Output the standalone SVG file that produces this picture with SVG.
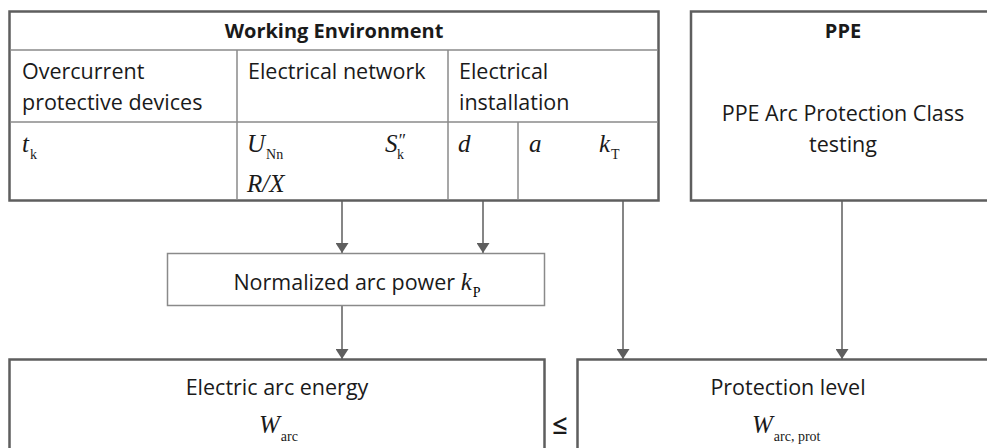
<svg xmlns="http://www.w3.org/2000/svg" width="987" height="448" viewBox="0 0 987 448">
<style>
.box{fill:#fff;stroke:#5e5e5e;stroke-width:2.5}
.inner{fill:none;stroke:#8a8a8a;stroke-width:1.5}
.thin{fill:#fff;stroke:#8a8a8a;stroke-width:1.5}
.t{font-family:"Open Sans","Liberation Sans",sans-serif;font-size:21.5px;fill:#1a1a1a}
.b{font-weight:bold;font-size:20px}
.m{font-family:"Liberation Serif","DejaVu Serif",serif;font-style:italic;font-size:25px;fill:#1a1a1a}
.s{font-family:"Liberation Serif","DejaVu Serif",serif;font-style:normal;font-size:14px}
.p{font-size:18px}
.c{stroke:#5e5e5e;stroke-width:1.5;fill:none}
</style>
<defs>
<marker id="ah" viewBox="0 0 10 13" refX="10" refY="6.5" markerWidth="10" markerHeight="13" markerUnits="userSpaceOnUse" orient="auto">
<path d="M0,0 L10,6.5 L0,13 z" fill="#5e5e5e"/>
</marker>
</defs>
<g id="connectors">
<line class="c" x1="342" y1="201" x2="342" y2="253" marker-end="url(#ah)"/>
<line class="c" x1="483" y1="201" x2="483" y2="253" marker-end="url(#ah)"/>
<line class="c" x1="342" y1="306" x2="342" y2="359" marker-end="url(#ah)"/>
<line class="c" x1="623" y1="201" x2="623" y2="359" marker-end="url(#ah)"/>
<line class="c" x1="842" y1="201" x2="842" y2="359" marker-end="url(#ah)"/>
</g>
<g id="working-environment">
<rect class="box" x="9.5" y="11.5" width="649" height="189"/>
<line class="inner" x1="10" y1="50" x2="658" y2="50"/>
<line class="inner" x1="10" y1="122" x2="658" y2="122"/>
<line class="inner" x1="237" y1="50" x2="237" y2="200"/>
<line class="inner" x1="448" y1="50" x2="448" y2="200"/>
<line class="inner" x1="518" y1="122" x2="518" y2="200"/>
<text class="t b" x="334" y="38" text-anchor="middle">Working Environment</text>
<text class="t" x="22" y="79">Overcurrent</text>
<text class="t" x="22" y="110">protective devices</text>
<text class="t" x="248" y="79">Electrical network</text>
<text class="t" x="459" y="79">Electrical</text>
<text class="t" x="459" y="110">installation</text>
<text class="m" x="22" y="152">t<tspan class="s" dx="1" dy="7">k</tspan></text>
<text class="m" x="247" y="152">U<tspan class="s" dx="1" dy="7">Nn</tspan></text>
<text class="m" x="247" y="192">R/X</text>
<text class="m" x="385" y="152">S<tspan class="p" dx="0" dy="-5">″</tspan><tspan class="s" dx="-8" dy="12">k</tspan></text>
<text class="m" x="458" y="152">d</text>
<text class="m" x="529" y="152">a</text>
<text class="m" x="599" y="152">k<tspan class="s" dx="1" dy="7">T</tspan></text>
</g>
<g id="ppe">
<rect class="box" x="691" y="11.5" width="310" height="189"/>
<text class="t b" x="843" y="38" text-anchor="middle">PPE</text>
<text class="t" x="843" y="121" text-anchor="middle">PPE Arc Protection Class</text>
<text class="t" x="843" y="152" text-anchor="middle">testing</text>
</g>
<g id="normalized-arc-power">
<rect class="thin" x="167.5" y="253.5" width="377" height="52"/>
<text x="357" y="290" text-anchor="middle"><tspan class="t">Normalized arc power </tspan><tspan class="m">k</tspan><tspan class="s" dx="1" dy="7">P</tspan></text>
</g>
<g id="electric-arc-energy">
<rect class="box" x="9.5" y="359.5" width="535" height="110"/>
<text class="t" x="277" y="395" text-anchor="middle">Electric arc energy</text>
<text class="m" x="259" y="433">W<tspan class="s" dx="1" dy="8">arc</tspan></text>
</g>
<g id="protection-level">
<rect class="box" x="577.5" y="359.5" width="430" height="110"/>
<text class="t" x="788" y="395" text-anchor="middle">Protection level</text>
<text class="m" x="752" y="433">W<tspan class="s" dx="1" dy="8">arc, prot</tspan></text>
</g>
<text class="t" x="560" y="434" text-anchor="middle" style="font-size:27px;font-weight:600">≤</text>
</svg>
